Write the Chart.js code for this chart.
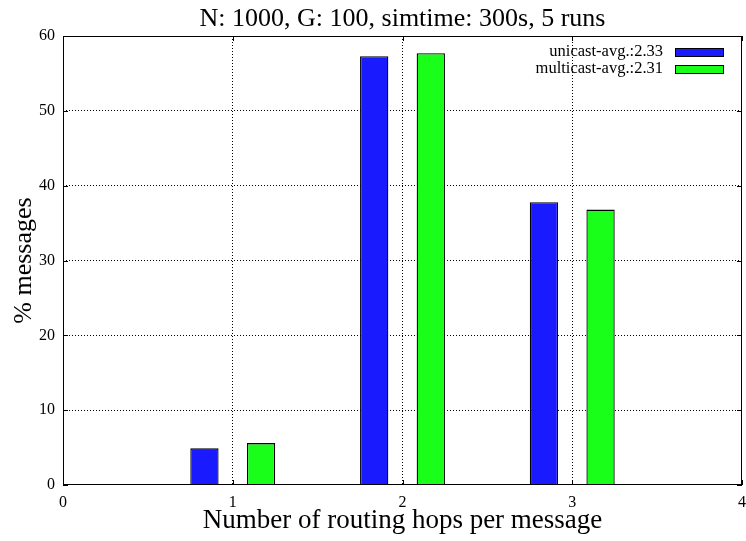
<!DOCTYPE html>
<html>
<head>
<meta charset="utf-8">
<script src="https://cdn.jsdelivr.net/npm/chart.js@4/dist/chart.umd.min.js"></script>
<style>
  html, body { margin: 0; padding: 0; background: #fff; }
  #wrap { width: 746px; height: 541px; }
</style>
</head>
<body>
<div id="wrap"><canvas id="c" width="746" height="541"></canvas></div>
<script>
// Share of messages (%) by number of routing hops
const hops = [1, 2, 3, 4];
const unicastPct = [4.9, 57.3, 37.8, 0.1];
const multicastPct = [5.6, 57.7, 36.8, 0];
const seriesLabels = ['unicast-avg.:2.33', 'multicast-avg.:2.31'];
const xTicks = [0, 1, 2, 3, 4];
const yTicks = [0, 10, 20, 30, 40, 50, 60];
const titleText = 'N: 1000, G: 100, simtime: 300s, 5 runs';
const xTitleText = 'Number of routing hops per message';
const yTitleText = '% messages';

const SERIF = "'Liberation Serif', 'DejaVu Serif', serif";
const BLUE = 'rgb(26,26,255)';
const GREEN = 'rgb(26,255,26)';

const toPoints = vals => hops.map((h, i) => ({ x: h, y: vals[i] }));

// Closed frame, inward tick marks and a key in the top-right corner
const framePlugin = {
  id: 'frame',
  afterDraw(chart) {
    const { ctx, chartArea: a, scales } = chart;
    ctx.save();
    ctx.strokeStyle = '#000';
    ctx.lineWidth = 1;
    ctx.setLineDash([]);
    ctx.strokeRect(a.left + 0.5, a.top + 0.5, a.right - a.left - 1, a.bottom - a.top - 1);
    const tl = 5;
    ctx.beginPath();
    yTicks.forEach(v => {
      const y = Math.round(scales.y.getPixelForValue(v)) + 0.5;
      ctx.moveTo(a.left, y); ctx.lineTo(a.left + tl, y);
      ctx.moveTo(a.right, y); ctx.lineTo(a.right - tl, y);
    });
    xTicks.forEach(v => {
      const x = Math.round(scales.x.getPixelForValue(v)) + 0.5;
      ctx.moveTo(x, a.bottom); ctx.lineTo(x, a.bottom - tl);
      ctx.moveTo(x, a.top); ctx.lineTo(x, a.top + tl);
    });
    ctx.stroke();

    // key: label text right-aligned, colour sample to its right
    ctx.font = '16.5px ' + SERIF;
    ctx.textAlign = 'right';
    ctx.textBaseline = 'middle';
    chart.data.datasets.forEach((ds, i) => {
      const cy = a.top + 16 + i * 16.5;
      ctx.fillStyle = '#000';
      ctx.fillText(ds.label, a.right - 79, cy);
      ctx.fillStyle = ds.backgroundColor;
      ctx.fillRect(a.right - 67, Math.round(cy) - 4, 48, 8);
      ctx.strokeRect(a.right - 67 + 0.5, Math.round(cy) - 4 + 0.5, 48, 8);
    });
    ctx.restore();
  }
};

new Chart(document.getElementById('c'), {
  type: 'bar',
  data: {
    datasets: [
      { label: seriesLabels[0], data: toPoints(unicastPct), backgroundColor: BLUE, borderColor: '#000', borderWidth: 1.3 },
      { label: seriesLabels[1], data: toPoints(multicastPct), backgroundColor: GREEN, borderColor: '#000', borderWidth: 1.3 }
    ]
  },
  options: {
    responsive: false,
    animation: false,
    devicePixelRatio: 1,
    categoryPercentage: 0.667,
    barPercentage: 0.5,
    layout: { padding: { left: 0, right: 4, top: 0, bottom: 0 } },
    plugins: {
      legend: { display: false },
      tooltip: { enabled: false },
      title: {
        display: true,
        text: titleText,
        fullSize: false,
        color: '#000',
        font: { family: SERIF, size: 26, weight: 'normal', lineHeight: 1 },
        padding: { top: 6, bottom: 4 }
      }
    },
    scales: {
      x: {
        type: 'linear',
        min: 0,
        max: 4,
        offset: false,
        afterBuildTicks: s => { s.ticks = xTicks.map(v => ({ value: v })); },
        afterFit: s => { s.height = 56; s.paddingLeft = 0; s.paddingRight = 0; },
        ticks: { color: '#000', font: { family: SERIF, size: 16 }, padding: 8, maxRotation: 0 },
        grid: { offset: false, color: ctx => (ctx.tick && (ctx.tick.value === 0 || ctx.tick.value === 4)) ? 'rgba(0,0,0,0)' : '#000', lineWidth: 1, drawTicks: false },
        border: { display: false, dash: [1, 2] },
        title: { display: true, text: xTitleText, color: '#000', font: { family: SERIF, size: 27, lineHeight: 1.2 }, padding: { top: 0, bottom: 4 } }
      },
      y: {
        min: 0,
        max: 60,
        afterBuildTicks: s => { s.ticks = yTicks.map(v => ({ value: v })); },
        afterFit: s => { s.width = 63; s.paddingTop = 0; s.paddingBottom = 0; },
        ticks: { color: '#000', font: { family: SERIF, size: 16 }, padding: 8 },
        grid: { color: ctx => (ctx.tick && (ctx.tick.value === 0 || ctx.tick.value === 60)) ? 'rgba(0,0,0,0)' : '#000', lineWidth: 1, drawTicks: false },
        border: { display: false, dash: [1, 2] },
        title: { display: true, text: yTitleText, color: '#000', font: { family: SERIF, size: 26, lineHeight: 1.2 }, padding: { top: 9, bottom: 0 } }
      }
    }
  },
  plugins: [framePlugin]
});
</script>
</body>
</html>
